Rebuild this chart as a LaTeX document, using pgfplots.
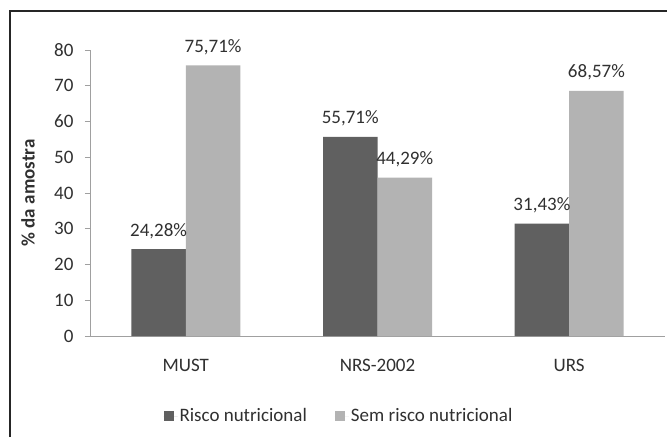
\documentclass[border=0pt]{standalone}
\usepackage{fontspec}
\setmainfont{Carlito}
\usepackage{pgfplots}
\pgfplotsset{compat=1.18}
\definecolor{darkbar}{HTML}{606060}
\definecolor{lightbar}{HTML}{B3B3B3}
\definecolor{axisgray}{HTML}{A0A0A0}
\definecolor{txt}{HTML}{303030}
\begin{document}
\begin{tikzpicture}[x=1pt,y=1pt]
\useasboundingbox (0,0) rectangle (667,437);
\fill[white] (0,0) rectangle (667,437);
\draw[line width=1.5pt,color=black!85] (10,0) -- (10,426) -- (667,426);
\begin{axis}[
  at={(90pt,101pt)}, anchor=south west,
  scale only axis, width=575pt, height=286pt,
  font=\fontsize{19}{22}\selectfont,
  /pgf/number format/assume math mode=true,
  ybar=0pt, bar width=54.5pt,
  xmin=-0.5, xmax=2.5, ymin=0, ymax=80,
  xtick={0,1,2}, xticklabels={MUST,NRS-2002,URS},
  ytick={0,10,...,80},
  axis x line*=bottom, axis y line*=left,
  axis line style={color=axisgray, line width=0.9pt},
  tick style={color=axisgray, line width=0.9pt},
  tick align=outside,
  x tick style={draw=none},
  major tick length=5pt,
  extra x ticks={-0.5,0.5,1.5,2.5}, extra x tick labels={},
  extra x tick style={tick style={draw=axisgray, line width=0.9pt}, major tick length=6pt},
  xticklabel style={text=txt, yshift=-15pt},
  yticklabel style={text=txt, xshift=-8pt},
  ylabel={\bfseries \% da amostra},
  every axis y label/.style={at={(axis description cs:-0.1078,0.5)}, rotate=90, anchor=center, text=txt},
  point meta=explicit symbolic,
  nodes near coords={\pgfplotspointmeta},
  nodes near coords style={font=\fontsize{19}{22}\selectfont, text=txt, anchor=base, inner sep=0pt, yshift=13pt},
  legend columns=2,
  legend style={draw=none, fill=none, at={(0.433,-0.28)}, anchor=center, font=\fontsize{19}{22}\selectfont, text=txt,
    /tikz/every even column/.append style={column sep=26pt}},
  legend image code/.code={\fill[#1] (0pt,-5pt) rectangle (10pt,5pt); \path (0pt,0pt) -- (14pt,0pt);},
]
\addplot[fill=darkbar, draw=none] coordinates {(0,24.28) [24,28\%] (1,55.71) [55,71\%] (2,31.43) [31,43\%]};
\addplot[fill=lightbar, draw=none] coordinates {(0,75.71) [75,71\%] (1,44.29) [44,29\%] (2,68.57) [68,57\%]};
\legend{Risco nutricional, Sem risco nutricional}
\end{axis}
\end{tikzpicture}
\end{document}
